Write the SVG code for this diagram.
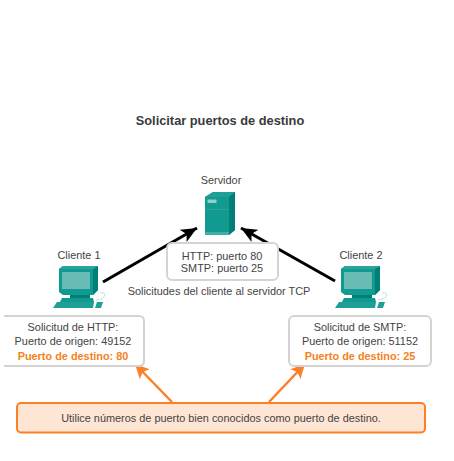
<svg xmlns="http://www.w3.org/2000/svg" width="454" height="461" viewBox="0 0 454 461">
<style>
text{font-family:"Liberation Sans",Arial,sans-serif;font-size:10.9px;fill:#444;text-anchor:middle}
.title{font-size:12.8px;font-weight:bold;fill:#3a3a3a}
.hl{font-weight:bold;fill:#f58220}
.box{fill:#fff;stroke:#d4d4d4;stroke-width:2}
.blk{stroke:#000;stroke-width:3;fill:none}
.org{stroke:#fd7f28;stroke-width:2.5;fill:none}
</style>
<defs>
<marker id="ab" markerUnits="userSpaceOnUse" markerWidth="18" markerHeight="14" refX="16" refY="7" orient="auto"><path d="M0 0L16 7L0 14L4 7Z" fill="#000"/></marker>
<marker id="ao" markerUnits="userSpaceOnUse" markerWidth="16" markerHeight="14" refX="14" refY="7" orient="auto"><path d="M0 0L14 7L0 14L3 7Z" fill="#fd7f28"/></marker>
<g id="pc">
<path d="M13 4L17 1H52V25L47 30H17L13 27Z" fill="#109a90"/>
<path d="M47 4L52 1V25L47 30Z" fill="#007f77"/>
<path d="M13 4L17 1H52L47 4Z" fill="#2aa59b"/>
<path d="M16 7H44V24H16Z" fill="#69bcb6"/>
<path d="M24 30H44V33H24Z" fill="#007f77"/>
<path d="M16 33H47L48 37H14Z" fill="#109a90"/>
<path d="M11 37H48L47 43H7Z" fill="#1fa096"/>
<path d="M51 37H57L55 43H49Z" fill="#1fa096"/>
<path d="M50 35Q59 34 59 29Q58 27 54 28" fill="none" stroke="#bfe3df" stroke-width="1"/>
</g>
</defs>
<text class="title" x="220" y="125">Solicitar puertos de destino</text>
<g id="connectors">
<path class="blk" d="M103 282L197 228" marker-end="url(#ab)"/>
<path class="blk" d="M335 281L241 228" marker-end="url(#ab)"/>
<path class="org" d="M172 402L135 364" marker-end="url(#ao)"/>
<path class="org" d="M269 402L305 364" marker-end="url(#ao)"/>
</g>
<g id="servidor">
<text x="221" y="184">Servidor</text>
<path d="M205 197L213 192H235V230L229 235H205Z" fill="#109a90"/>
<path d="M205 197L213 192H235L229 197Z" fill="#1fa096"/>
<path d="M229 197L235 192V230L229 235Z" fill="#007f77"/>
<path d="M205 209.500H229" stroke="#3aa89f" stroke-width="0.700"/>
<path d="M205 232H229V235H205Z" fill="#3fb0a7"/>
<rect x="207.500" y="199.500" width="9" height="3.500" fill="#8fd0ca"/>
</g>
<g id="puertos">
<rect class="box" x="167" y="243" width="111" height="37" rx="5"/>
<text x="222" y="260">HTTP: puerto 80</text>
<text x="222" y="272">SMTP: puerto 25</text>
</g>
<text x="219" y="295">Solicitudes del cliente al servidor TCP</text>
<g id="cliente1">
<text x="79" y="259">Cliente 1</text>
<use href="#pc" x="46" y="265"/>
</g>
<g id="cliente2">
<text x="361" y="259">Cliente 2</text>
<use href="#pc" x="328" y="265"/>
</g>
<g id="solicitud1">
<path class="box" d="M4 316H139Q144 316 144 321V361Q144 366 139 366H4"/>
<text x="73" y="331">Solicitud de HTTP:</text>
<text x="73" y="345">Puerto de origen: 49152</text>
<text class="hl" x="73" y="360">Puerto de destino: 80</text>
</g>
<g id="solicitud2">
<rect class="box" x="289" y="316" width="142" height="50" rx="5"/>
<text x="360" y="331">Solicitud de SMTP:</text>
<text x="360" y="345">Puerto de origen: 51152</text>
<text class="hl" x="360" y="360">Puerto de destino: 25</text>
</g>
<g id="nota">
<rect x="17" y="403" width="408" height="29.500" rx="4" fill="#fee5d4" stroke="#fd7f28" stroke-width="2"/>
<text x="221" y="422">Utilice números de puerto bien conocidos como puerto de destino.</text>
</g>
</svg>
